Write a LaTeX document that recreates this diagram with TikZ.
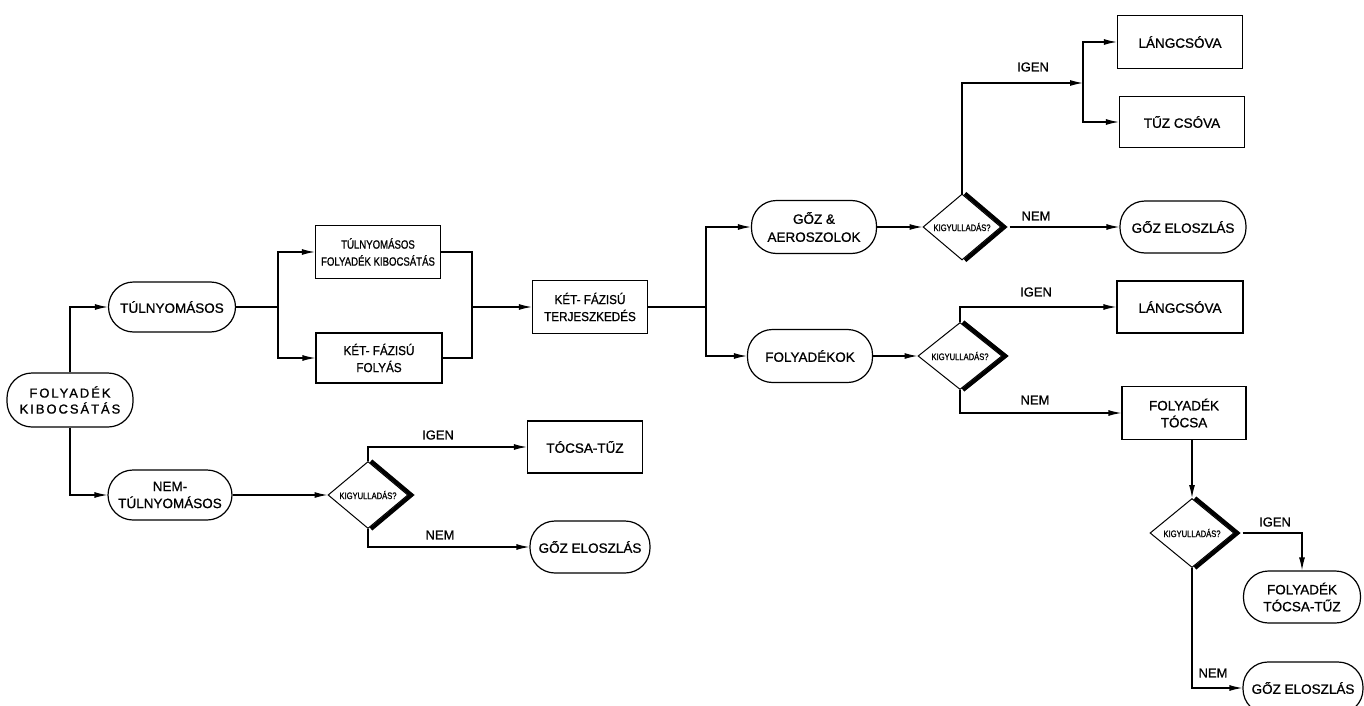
\documentclass[tikz,border=0pt]{standalone}
\usepackage{fontspec}
\setmainfont{Liberation Sans}[FakeBold=0.9]
\newfontfamily\regf[FakeBold=0.9]{Liberation Sans}
\newfontfamily\condf[FakeStretch=0.8,FakeBold=0.9]{Liberation Sans}
\newfontfamily\kfont[FakeStretch=0.9,FakeBold=0.9]{Liberation Sans}
\newfontfamily\spacedf[LetterSpace=15,FakeBold=0.9]{Liberation Sans}
\usetikzlibrary{shapes.geometric,arrows.meta}
\tikzset{
  base/.style={draw, line width=1.2pt, align=center, inner sep=0pt,
    font=\regf\fontsize{13.5}{17}\selectfont},
  pill/.style={base, rectangle, rounded corners=25pt, minimum width=#1, minimum height=52pt},
  rbox/.style={base, rectangle, minimum width=#1, minimum height=52pt},
  dia/.style={draw, diamond, line width=1pt, inner sep=0pt, minimum width=#1,
    minimum height=67pt, font=\condf\fontsize{9.5}{10}\selectfont},
  shade/.style={line width=4pt, line join=miter},
  conn/.style={line width=1.2pt},
  arr/.style={conn, -{Latex[length=13pt,width=6pt]}},
  lbl/.style={inner sep=0pt, font=\regf\fontsize{13}{15}\selectfont}
}
\newcommand{\kq}{\makebox[0pt]{KIGYULLADÁS?}}
\begin{document}
\begin{tikzpicture}[x=1pt,y=-1pt]
\useasboundingbox (0,0) rectangle (1364,706);
\fill[white] (0,0) rectangle (1364,706);

% left part
\node[pill=126pt, minimum height=54pt, font=\spacedf\fontsize{13}{16}\selectfont] (src) at (70,400) {FOLYADÉK\\KIBOCSÁTÁS};
\node[pill=127pt, minimum height=50pt] (tuln) at (172,307) {TÚLNYOMÁSOS};
\node[pill=124pt, minimum height=50pt] (nemt) at (170,495) {NEM-\\TÚLNYOMÁSOS};

\node[rbox=125pt, minimum height=53pt, font=\condf\fontsize{12}{17}\selectfont] (tfk) at (378,252) {TÚLNYOMÁSOS\\FOLYADÉK KIBOCSÁTÁS};
\node[rbox=126pt, minimum height=50pt, font=\kfont\fontsize{13}{17}\selectfont] (kff) at (379,358) {KÉT- FÁZISÚ\\FOLYÁS};
\node[rbox=115pt, minimum height=53pt, font=\kfont\fontsize{13}{17}\selectfont] (ktf) at (590,307) {KÉT- FÁZISÚ\\TERJESZKEDÉS};

\node[dia=80pt] (d0) at (368,495) {\kq};
\node[rbox=115pt] (tocsa) at (585,447) {TÓCSA-TŰZ};
\node[pill=120pt] (ge0) at (590,547) {GŐZ ELOSZLÁS};

% middle / right
\node[pill=125pt, minimum height=53pt, font=\regf\fontsize{13.5}{18}\selectfont] (goz) at (814,227) {GŐZ \&\\AEROSZOLOK};
\node[pill=125pt, minimum height=53pt] (foly) at (810,356) {FOLYADÉKOK};

\node[dia=78pt, minimum height=66pt] (d1) at (962,227) {\kq};
\node[dia=84pt] (d2) at (960,356) {\kq};

\node[rbox=125pt, minimum height=53pt] (lang1) at (1180,42) {LÁNGCSÓVA};
\node[rbox=125pt, minimum height=51pt] (tuz) at (1182,122) {TŰZ CSÓVA};
\node[pill=126pt] (ge1) at (1183,227) {GŐZ ELOSZLÁS};
\node[rbox=126pt] (lang2) at (1180,307) {LÁNGCSÓVA};
\node[rbox=124pt, minimum height=53pt] (ftocsa) at (1184,413) {FOLYADÉK\\TÓCSA};

\node[dia=84pt, minimum height=69pt] (d3) at (1192,533) {\kq};
\node[pill=117pt] (ftt) at (1302,597) {FOLYADÉK\\TÓCSA-TŰZ};
\node[pill=120pt] (ge3) at (1303,688) {GŐZ ELOSZLÁS};

% diamond shadows
\foreach \d in {d0,d1,d2,d3}{
  \draw[shade] ([xshift=3pt]\d.north) -- ([xshift=3pt]\d.east) -- ([xshift=3pt]\d.south);
}

% junction coordinates
\coordinate (j1) at (278,307);
\coordinate (j2) at (472,307);
\coordinate (j3) at (706,307);
\coordinate (j4) at (1083,83);

% connectors
\draw[arr] (src.north) |- (tuln.west);
\draw[arr] (src.south) |- (nemt.west);

\draw[conn] (tuln.east) -- (j1);
\draw[arr] (j1) |- (tfk.west);
\draw[arr] (j1) |- (kff.west);
\draw[conn] (tfk.east) -| (j2);
\draw[conn] (kff.east) -| (j2);
\draw[arr] (j2) -- (ktf.west);

\draw[arr] (nemt.east) -- (d0.west);
\draw[arr] (d0.north) |- (tocsa.west);
\draw[arr] (d0.south) |- (ge0.west);

\draw[conn] (ktf.east) -- (j3);
\draw[arr] (j3) |- (goz.west);
\draw[arr] (j3) |- (foly.west);

\draw[arr] (goz.east) -- (d1.west);
\draw[arr] (d1.north) |- (j4);
\draw[arr] (j4) |- (lang1.west);
\draw[arr] (j4) |- (tuz.west);
\draw[arr] ([xshift=8pt]d1.east) -- (ge1.west);

\draw[arr] (foly.east) -- (d2.west);
\draw[arr] (d2.north) |- (lang2.west);
\draw[arr] (d2.south) |- (ftocsa.west);

\draw[arr] (ftocsa.south -| d3.north) -- (d3.north);
\draw[arr] ([xshift=8pt]d3.east) -| (ftt.north);
\draw[arr] (d3.south) |- (ge3.west);

% labels
\node[lbl] (l1) at (1033,67) {IGEN};
\node[lbl] (l2) at (1036,216) {NEM};
\node[lbl] (l3) at (1036,292) {IGEN};
\node[lbl] (l4) at (1035,400) {NEM};
\node[lbl] (l5) at (438,435) {IGEN};
\node[lbl] (l6) at (440,535) {NEM};
\node[lbl] (l7) at (1275,522) {IGEN};
\node[lbl] (l8) at (1213,673) {NEM};
\end{tikzpicture}
\end{document}
